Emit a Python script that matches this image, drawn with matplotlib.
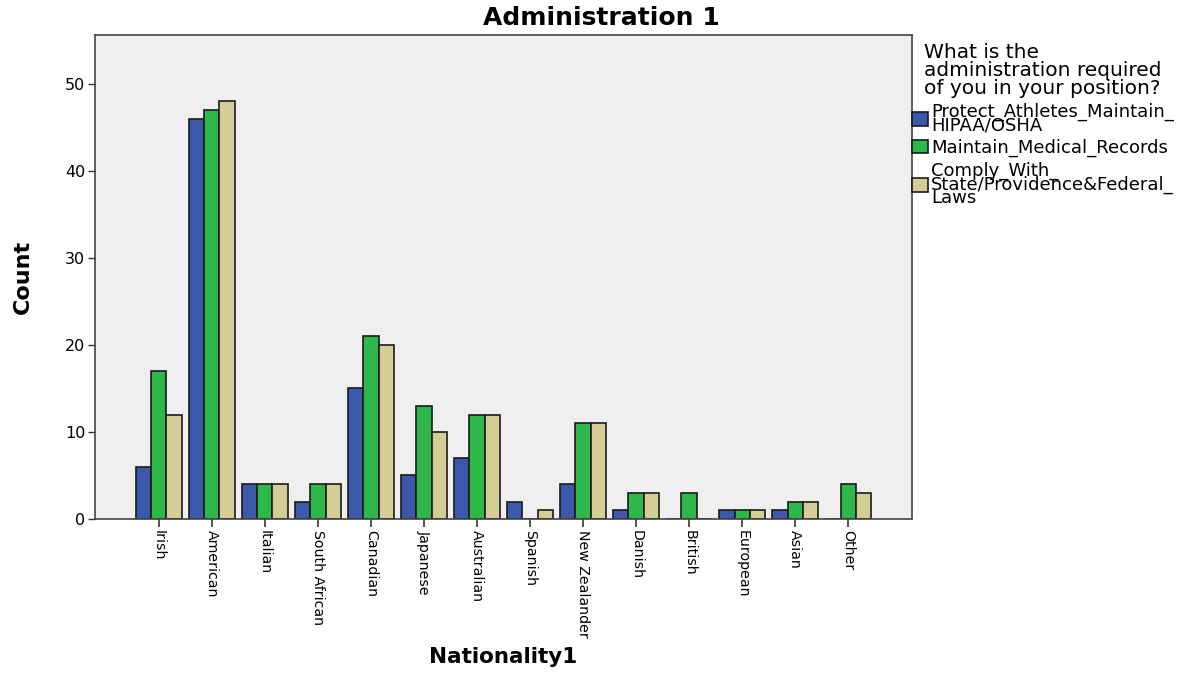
import matplotlib.pyplot as plt
import numpy as np

plt.rcParams['font.family'] = ['DejaVu Sans']

nationalities = ["Irish", "American", "Italian", "South African", "Canadian", "Japanese",
                 "Australian", "Spanish", "New Zealander", "Danish", "British", "European",
                 "Asian", "Other"]

protect_hipaa = [6, 46, 4, 2, 15, 5, 7, 2, 4, 1, 0, 1, 1, 0]
medical_records = [17, 47, 4, 4, 21, 13, 12, 0, 11, 3, 3, 1, 2, 4]
comply_laws = [12, 48, 4, 4, 20, 10, 12, 1, 11, 3, 0, 1, 2, 3]

series_labels = ["Protect_Athletes_Maintain_\nHIPAA/OSHA",
                 "Maintain_Medical_Records",
                 "Comply_With_\nState/Providence&Federal_\nLaws"]
colors = ["#3C58AB", "#2EB84A", "#D4CE96"]

fig = plt.figure(figsize=(12.03, 6.73), dpi=100)
ax = fig.add_axes([95/1203, 1 - 519/673, (912-95)/1203, (519-35)/673])
ax.set_facecolor("#EFEFEF")

x = np.arange(len(nationalities))
w = 0.29
for i, vals in enumerate([protect_hipaa, medical_records, comply_laws]):
    ax.bar(x + (i - 1) * w, vals, width=w, color=colors[i], edgecolor="#1a1a1a",
           linewidth=1.2, label=series_labels[i])

ax.set_xlim(-1.2, 14.2)
ax.set_ylim(0, 55.6)
ax.set_yticks([0, 10, 20, 30, 40, 50])
ax.set_xticks(x)
ax.set_xticklabels(nationalities, rotation=-90, ha='center', va='top', fontsize=10.2)
ax.tick_params(axis='x', length=6, width=1.2, color="#333333", pad=2)
ax.tick_params(axis='y', length=5, width=1.0, color="#333333", labelsize=11.5, pad=2)
for s in ax.spines.values():
    s.set_color("#444444")
    s.set_linewidth(1.2)

ax.set_ylabel("Count", fontsize=16, fontweight='bold')
ax.yaxis.set_label_coords((33 - 95) / (912 - 95), 0.5)
ax.set_xlabel("Nationality1", fontsize=15.5, fontweight='bold')
ax.xaxis.set_label_coords(0.5, -(657 - 519) / (519 - 35))
ax.xaxis.label.set_va('center')
fig.text(601/1203, 1 - 18/673, "Administration 1", fontsize=18, fontweight='bold',
         ha='center', va='center')

leg = fig.legend(loc='upper left', bbox_to_anchor=(912/1203, 1 - 43/673), frameon=False,
                 title="What is the\nadministration required\nof you in your position?",
                 fontsize=13, title_fontsize=14.5, handlelength=0.9, handleheight=0.75,
                 handletextpad=0.15, labelspacing=0.25, borderpad=0, borderaxespad=0)
leg.get_title().set_linespacing(0.93)
for t in leg.get_texts():
    t.set_linespacing(0.68)

fig.savefig("out.png", dpi=100)
